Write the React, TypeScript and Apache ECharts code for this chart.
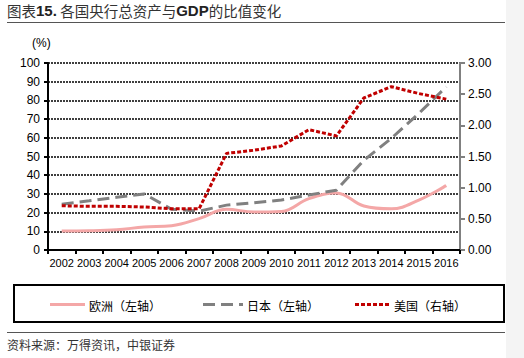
import React, { useEffect, useRef } from "react";
import * as echarts from "echarts";

const years = ["2002","2003","2004","2005","2006","2007","2008","2009","2010","2011","2012","2013","2014","2015","2016"];
const europe = [10.2, 10.3, 10.8, 12.3, 13, 16.8, 21.8, 20.3, 20.6, 27.5, 30.5, 23.5, 22, 26.7, 34.5];
const japan = [24.5, 26.3, 28.2, 30, 21.8, 20.8, 24, 25.3, 26.7, 29.4, 32, 48, 59.7, 73, 87.3];
const usa = [0.71, 0.7, 0.7, 0.69, 0.66, 0.66, 1.55, 1.6, 1.67, 1.93, 1.83, 2.44, 2.62, 2.51, 2.42];
const seriesNames = ["欧洲（左轴）", "日本（左轴）", "美国（右轴）"];
const seriesColors = ["#f4a7a7", "#808080", "#c00000"];
const seriesDash: (number[] | null)[] = [null, [12, 6], [4, 2]];
const titleText = "各国央行总资产与";
const sourceText = "资料来源：万得资讯，中银证券";

const FONT = "'Liberation Sans', Arial, sans-serif";
const CJK = "'Noto Sans CJK SC', sans-serif";

export default function App() {
  const ref = useRef<HTMLDivElement>(null);
  useEffect(() => {
    const chart = echarts.init(ref.current!, null, { renderer: "svg" });
    const legendX = [50, 203, 355];
    const legendLen = [35, 40, 35];
    const legendGraphics: any[] = [];
    seriesNames.forEach((name, i) => {
      legendGraphics.push({
        type: "line",
        shape: { x1: legendX[i], y1: 304.5, x2: legendX[i] + legendLen[i], y2: 304.5 },
        style: { stroke: seriesColors[i], lineWidth: 3, lineDash: seriesDash[i] || undefined },
      });
      legendGraphics.push({
        type: "text",
        x: legendX[i] + legendLen[i] + 4,
        y: 305,
        style: { text: name, fontFamily: CJK, fontSize: 12, fill: "#000", verticalAlign: "middle", align: "left" },
      });
    });
    chart.setOption({
      animation: false,
      backgroundColor: "#fff",
      grid: { left: 48, right: 64, top: 63, bottom: 108, containLabel: false },
      xAxis: {
        type: "category",
        data: years,
        boundaryGap: true,
        axisLine: { lineStyle: { color: "#000", width: 2 } },
        axisTick: { show: true, length: 4, lineStyle: { color: "#000", width: 2 } },
        axisLabel: { color: "#000", fontFamily: FONT, fontSize: 11, margin: 7, interval: 0 },
      },
      yAxis: [
        {
          type: "value",
          min: 0,
          max: 100,
          interval: 10,
          position: "left",
          axisLine: { show: true, lineStyle: { color: "#000", width: 2 } },
          axisTick: { show: true, length: 4, lineStyle: { color: "#000", width: 2 } },
          axisLabel: { color: "#000", fontFamily: FONT, fontSize: 12, margin: 8 },
          splitLine: { show: true, lineStyle: { color: "#000", width: 1.6, type: [2, 1] } },
        },
        {
          type: "value",
          min: 0,
          max: 3,
          interval: 0.5,
          position: "right",
          axisLine: { show: true, lineStyle: { color: "#808080", width: 2 } },
          axisTick: { show: true, length: 5, lineStyle: { color: "#808080", width: 2 } },
          axisLabel: { color: "#000", fontFamily: FONT, fontSize: 12, margin: 8, formatter: (v: number) => v.toFixed(2) },
          splitLine: { show: false },
        },
      ],
      series: [
        {
          name: seriesNames[0],
          type: "line",
          yAxisIndex: 0,
          data: europe,
          smooth: 0.4,
          symbol: "none",
          lineStyle: { color: seriesColors[0], width: 3 },
          z: 2,
        },
        {
          name: seriesNames[1],
          type: "line",
          yAxisIndex: 0,
          data: japan,
          symbol: "none",
          lineStyle: { color: seriesColors[1], width: 3, type: seriesDash[1] },
          z: 3,
        },
        {
          name: seriesNames[2],
          type: "line",
          yAxisIndex: 1,
          data: usa,
          symbol: "none",
          lineStyle: { color: seriesColors[2], width: 3, type: seriesDash[2] },
          z: 4,
        },
      ],
      graphic: [
        {
          type: "text",
          left: 7,
          top: 3,
          style: {
            text: "{n|图表}{b|15.} {n|" + titleText + "}{b|GDP}{n|的比值变化}",
            rich: {
              n: { fontFamily: CJK, fontSize: 14.5, fill: "#333", fontWeight: "normal" },
              b: { fontFamily: FONT, fontSize: 15, fill: "#222", fontWeight: "bold" },
            },
          },
        },
        { type: "line", shape: { x1: 7, y1: 22.5, x2: 505, y2: 22.5 }, style: { stroke: "#555", lineWidth: 1 } },
        { type: "text", left: 32, top: 37, style: { text: "(%)", fontFamily: FONT, fontSize: 12, fill: "#000" } },
        { type: "rect", shape: { x: 506, y: 0, width: 18, height: 358 }, style: { fill: "#f4f4f4" }, z: -1 },
        { type: "rect", shape: { x: 14, y: 285, width: 490, height: 37 }, style: { fill: "none", stroke: "#000", lineWidth: 2 }, z: -1 },
        ...legendGraphics,
        { type: "line", shape: { x1: 7, y1: 332.5, x2: 505, y2: 332.5 }, style: { stroke: "#555", lineWidth: 1 } },
        { type: "text", left: 7, top: 338, style: { text: sourceText, fontFamily: CJK, fontSize: 12, fill: "#333" } },
      ],
    });
    return () => chart.dispose();
  }, []);
  return <div ref={ref} style={{ position: "absolute", left: 0, top: 0, width: 524, height: 358 }} />;
}
